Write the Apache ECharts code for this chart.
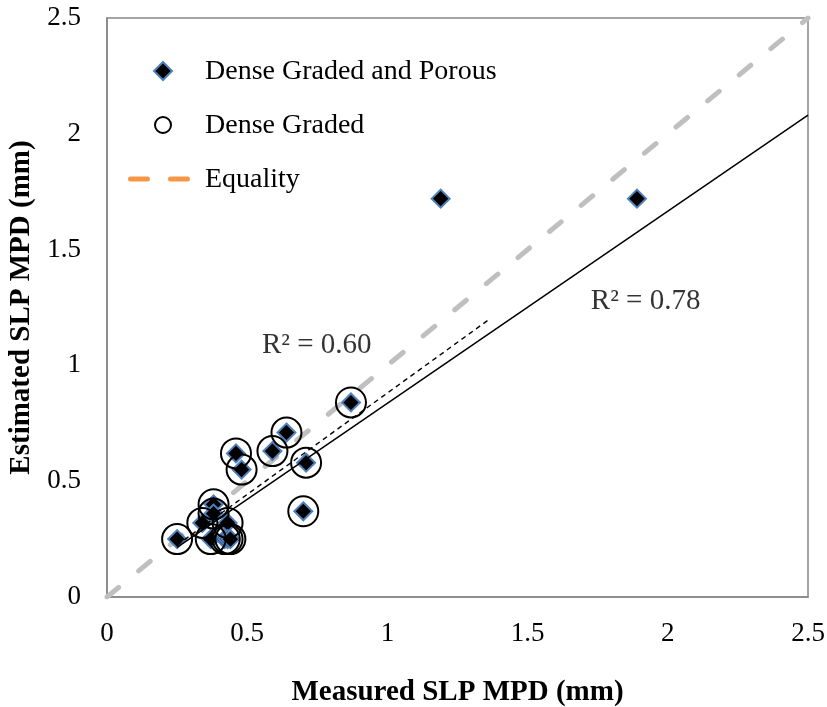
<!DOCTYPE html>
<html>
<head>
<meta charset="utf-8">
<script src="https://cdn.jsdelivr.net/npm/echarts@6/dist/echarts.min.js"></script>
<style>
html,body{margin:0;padding:0;background:#fff;}
#chart{width:827px;height:707px;}
</style>
</head>
<body>
<div id="chart"></div>
<script>
// Dense Graded and Porous (all sections)
const allMeasured  = [0.25, 0.38, 0.38, 0.34, 0.43, 0.37, 0.42, 0.43, 0.44, 0.46, 0.48, 0.59, 0.64, 0.71, 0.70, 0.87, 1.19, 1.89];
const allEstimated = [0.25, 0.40, 0.36, 0.32, 0.32, 0.25, 0.25, 0.25, 0.25, 0.62, 0.55, 0.63, 0.71, 0.58, 0.37, 0.84, 1.72, 1.72];
// Dense Graded only
const denseMeasured  = [0.25, 0.38, 0.38, 0.34, 0.43, 0.37, 0.42, 0.43, 0.44, 0.46, 0.48, 0.59, 0.64, 0.71, 0.70, 0.87];
const denseEstimated = [0.25, 0.40, 0.36, 0.32, 0.32, 0.25, 0.25, 0.25, 0.25, 0.62, 0.55, 0.63, 0.71, 0.58, 0.37, 0.84];
// Equality line
const equalityX = [0, 2.5];
const equalityY = [0, 2.5];
// Trend lines
const trendAllX = [0.25, 2.5];
const trendAllY = [0.214, 2.081];
const trendDenseX = [0.25, 1.36];
const trendDenseY = [0.224, 1.196];
// R² labels
const r2Labels = ['R² = 0.60', 'R² = 0.78'];
const r2X = [0.748, 1.921];
const r2Y = [1.088, 1.275];
// Axes
const axisTicks = [0, 0.5, 1, 1.5, 2, 2.5];
const seriesNames = ['Dense Graded and Porous', 'Dense Graded', 'Equality'];

const zip = (xs, ys) => xs.map((x, i) => [x, ys[i]]);
const FONT = 'Liberation Serif';
const legendFont = '28px "Liberation Serif"';

const chart = echarts.init(document.getElementById('chart'), null, {renderer: 'canvas'});
chart.setOption({
  animation: false,
  backgroundColor: '#fff',
  grid: {left: 107, top: 18, right: 19, bottom: 110, show: true, borderColor: '#868686', borderWidth: 1.5,
         containLabel: false, outerBoundsMode: 'none'},
  graphic: [
    {type: 'polygon', shape: {points: [[163, 62], [172, 71], [163, 80], [154, 71]]},
     style: {fill: '#000', stroke: '#4F81BD', lineWidth: 2}, z: 10},
    {type: 'text', x: 205, y: 72, style: {text: seriesNames[0], font: legendFont, fill: '#000', verticalAlign: 'middle'}, z: 10},
    {type: 'circle', shape: {cx: 163, cy: 125, r: 8}, style: {fill: '#fff', stroke: '#000', lineWidth: 2}, z: 10},
    {type: 'text', x: 205, y: 126, style: {text: seriesNames[1], font: legendFont, fill: '#000', verticalAlign: 'middle'}, z: 10},
    {type: 'line', shape: {x1: 130.5, y1: 179, x2: 190, y2: 179},
     style: {stroke: '#F79646', lineWidth: 5, lineDash: [17, 23], lineCap: 'round'}, z: 10},
    {type: 'text', x: 205, y: 180, style: {text: seriesNames[2], font: legendFont, fill: '#000', verticalAlign: 'middle'}, z: 10}
  ],
  xAxis: {
    type: 'value', min: axisTicks[0], max: axisTicks[axisTicks.length - 1], interval: 0.5,
    name: 'Measured SLP MPD (mm)', nameLocation: 'middle', nameGap: 81,
    nameTextStyle: {fontFamily: FONT, fontSize: 29, fontWeight: 'bold', color: '#000'},
    axisLine: {lineStyle: {color: '#868686', width: 1.5}},
    axisTick: {show: false}, splitLine: {show: false},
    axisLabel: {fontFamily: FONT, fontSize: 27, color: '#000', margin: 23}
  },
  yAxis: {
    type: 'value', min: axisTicks[0], max: axisTicks[axisTicks.length - 1], interval: 0.5,
    name: 'Estimated SLP MPD (mm)', nameLocation: 'middle', nameGap: 69,
    nameTextStyle: {fontFamily: FONT, fontSize: 29, fontWeight: 'bold', color: '#000'},
    axisLine: {lineStyle: {color: '#868686', width: 1.5}},
    axisTick: {show: false}, splitLine: {show: false},
    axisLabel: {fontFamily: FONT, fontSize: 27, color: '#000', margin: 26}
  },
  series: [
    {
      name: seriesNames[2], type: 'line', data: zip(equalityX, equalityY), symbol: 'none', z: 1,
      lineStyle: {color: '#BFBFBF', width: 5, type: [15, 26], cap: 'round'}, silent: true
    },
    {
      name: seriesNames[0], type: 'scatter', data: zip(allMeasured, allEstimated), symbol: 'diamond', symbolSize: 18, z: 3,
      itemStyle: {color: '#000', borderColor: '#4F81BD', borderWidth: 2, opacity: 1}
    },
    {
      name: seriesNames[1], type: 'scatter', data: zip(denseMeasured, denseEstimated), symbol: 'circle', symbolSize: 30, z: 4,
      itemStyle: {color: 'rgba(0,0,0,0)', borderColor: '#000', borderWidth: 2, opacity: 1}
    },
    {
      name: 'trendAll', type: 'line', data: zip(trendAllX, trendAllY), symbol: 'none', z: 5,
      lineStyle: {color: '#000', width: 1.5, type: 'solid'}, silent: true
    },
    {
      name: 'trendDense', type: 'line', data: zip(trendDenseX, trendDenseY), symbol: 'none', z: 5,
      lineStyle: {color: '#000', width: 1.4, type: [5, 4]}, silent: true
    },
    {
      name: 'r2', type: 'scatter', symbolSize: 0, z: 6, silent: true,
      data: r2Labels.map((t, i) => ({value: [r2X[i], r2Y[i]], label: {formatter: t}})),
      label: {show: true, position: 'inside', fontFamily: FONT, fontSize: 29, color: '#000'}
    }
  ]
});
</script>
</body>
</html>
